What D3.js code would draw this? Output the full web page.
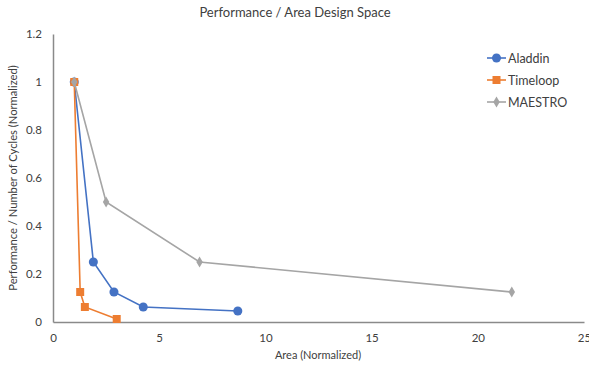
<!DOCTYPE html>
<html>
<head>
<meta charset="utf-8">
<script src="https://cdn.jsdelivr.net/npm/d3@7"></script>
<style>
  html, body { margin: 0; padding: 0; background: #fff; }
  svg { display: block; font-family: Lato, "Open Sans", sans-serif; }
</style>
</head>
<body>
<svg id="chart" width="589" height="367"></svg>
<script>
// Design-space points: [area, normalized cycles]
const aladdin = [[1, 1], [1.9, 0.25], [2.87, 0.125], [4.25, 0.0625], [8.7, 0.046]];
const timeloop = [[1, 1], [1.28, 0.125], [1.5, 0.0625], [3.0, 0.0125]];
const maestro = [[1, 1], [2.5, 0.5], [6.9, 0.25], [21.6, 0.125]];
const seriesNames = ["Aladdin", "Timeloop", "MAESTRO"];
const xTicks = [0, 5, 10, 15, 20, 25];
const yTicks = [0, 0.2, 0.4, 0.6, 0.8, 1, 1.2];

const series = [
  { name: seriesNames[0], data: aladdin, color: "#4472C4", symbol: d3.symbolCircle, size: 64 },
  { name: seriesNames[1], data: timeloop, color: "#ED7D31", symbol: d3.symbolSquare, size: 64 },
  { name: seriesNames[2], data: maestro, color: "#A5A5A5", symbol: d3.symbolDiamond, size: 36 }
];

const svg = d3.select("#chart");
const m = { left: 53, right: 584, top: 34, bottom: 322 };

const x = d3.scaleLinear().domain([0, 25]).range([m.left, m.right]);
const y = d3.scaleLinear().domain([0, 1.2]).range([m.bottom, m.top]);

// Title
svg.append("text")
  .attr("x", 295).attr("y", 17)
  .attr("text-anchor", "middle")
  .attr("font-size", 13).attr("fill", "#404040")
  .text("Performance / Area Design Space");

// Axes
const xAxis = svg.append("g").attr("transform", `translate(0,${m.bottom})`)
  .call(d3.axisBottom(x).tickValues(xTicks).tickSize(0).tickPadding(12).tickFormat(d3.format("d")));
const yAxis = svg.append("g").attr("transform", `translate(${m.left},0)`)
  .call(d3.axisLeft(y).tickValues(yTicks).tickSize(0).tickPadding(11).tickFormat(d => d === 0 ? "0" : d3.format("~g")(d)));

[xAxis, yAxis].forEach(a => {
  a.select(".domain").attr("stroke", "#8a8a8a").attr("stroke-width", 1.5);
  a.selectAll("text").attr("font-size", 11.5).attr("fill", "#404040").attr("font-family", "Lato, 'Open Sans', sans-serif");
});

// Axis titles
svg.append("text")
  .attr("x", 318).attr("y", 359)
  .attr("text-anchor", "middle")
  .attr("font-size", 11).attr("fill", "#404040")
  .text("Area (Normalized)");

svg.append("text")
  .attr("transform", `translate(17,178) rotate(-90)`)
  .attr("text-anchor", "middle")
  .attr("font-size", 11.2).attr("fill", "#404040")
  .text("Performance / Number of Cycles (Normalized)");

// Lines and markers, in series order (later series drawn on top)
const line = d3.line().x(d => x(d[0])).y(d => y(d[1]));
series.forEach(s => {
  const g = svg.append("g");
  g.append("path").datum(s.data)
    .attr("d", line).attr("fill", "none")
    .attr("stroke", s.color).attr("stroke-width", 1.6);
  g.selectAll("path.pt").data(s.data).join("path")
    .attr("class", "pt")
    .attr("transform", d => `translate(${x(d[0])},${y(d[1])})`)
    .attr("d", d3.symbol().type(s.symbol).size(s.size))
    .attr("fill", s.color);
});

// Legend
const legend = svg.append("g").attr("transform", "translate(487,58)");
series.forEach((s, i) => {
  const row = legend.append("g").attr("transform", `translate(0,${i * 22})`);
  row.append("line").attr("x1", 0).attr("x2", 19).attr("y1", 0).attr("y2", 0)
    .attr("stroke", s.color).attr("stroke-width", 1.6);
  row.append("path").attr("transform", "translate(9.5,0)")
    .attr("d", d3.symbol().type(s.symbol).size(s.size)).attr("fill", s.color);
  row.append("text").attr("x", 21).attr("y", 4.5)
    .attr("font-size", 12.5).attr("fill", "#404040").text(s.name);
});
</script>
</body>
</html>
